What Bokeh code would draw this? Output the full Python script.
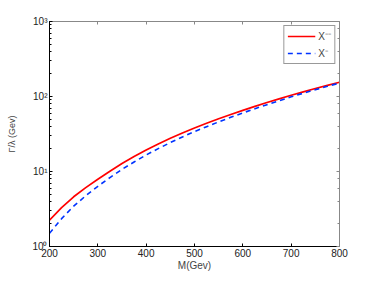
from bokeh.plotting import figure
from bokeh.models import Range1d, LinearAxis, LogAxis, FixedTicker, Legend, LegendItem
from bokeh.embed import file_html
from bokeh.resources import INLINE

# Data
mass = [200, 225, 250, 275, 300, 325, 350, 375, 400, 425, 450, 475, 500,
        525, 550, 575, 600, 625, 650, 675, 700, 725, 750, 775, 800]
gamma_xmm = [2.25, 3.3, 4.6, 6.1, 7.9, 10.1, 12.8, 15.8, 19.3, 23.3, 27.7, 32.6, 38.0,
             43.9, 50.4, 57.6, 65.3, 73.9, 83.1, 93.1, 103.8, 115.3, 127.7, 140.9, 155.0]
gamma_xm = [1.5, 2.35, 3.45, 4.75, 6.35, 8.3, 10.7, 13.4, 16.6, 20.2, 24.3, 28.9, 34.0,
            39.6, 45.9, 52.8, 60.4, 68.8, 77.8, 87.7, 99.0, 110.5, 123.2, 136.8, 151.0]
x_ticks = [200, 300, 400, 500, 600, 700, 800]
y_ticks = [1, 10, 100, 1000]
y_tick_labels = {1: "10⁰", 10: "10¹", 100: "10²", 1000: "10³"}
labels = ["X⁻⁻", "X⁻"]

FONT = "Liberation Sans"

p = figure(width=366, height=273, output_backend="svg", toolbar_location=None,
           x_range=Range1d(200, 800), y_range=Range1d(1, 1000), y_axis_type="log",
           min_border_left=49, min_border_right=27, min_border_top=21, min_border_bottom=25)
p.grid.visible = False
p.outline_line_color = None
p.background_fill_color = "white"
p.border_fill_color = "white"

r1 = p.line(mass, gamma_xmm, line_color="#ff0000", line_width=1.7)
r2 = p.line(mass, gamma_xm, line_color="#0033ff", line_width=1.6, line_dash="5 4")

def style(ax, color="black"):
    ax.axis_line_color = color
    ax.major_tick_line_color = color
    ax.minor_tick_line_color = color
    ax.major_tick_in = 3
    ax.major_tick_out = 0
    ax.minor_tick_in = 2
    ax.minor_tick_out = 0
    ax.major_label_text_font = FONT
    ax.major_label_text_color = "#222222"
    ax.major_label_text_font_size = "10px"
    ax.major_label_standoff = 2

xa = p.xaxis[0]
xa.ticker = FixedTicker(ticks=x_ticks)
style(xa)
xa.axis_label = "M(Gev)"
xa.axis_label_text_font = FONT
xa.axis_label_text_font_size = "10px"
xa.axis_label_text_font_style = "normal"
xa.axis_label_standoff = 0

ya = p.yaxis[0]
ya.ticker.desired_num_ticks = 4
ya.major_label_overrides = y_tick_labels
style(ya)
ya.axis_label = "Γ/λ (Gev)"
ya.axis_label_text_font = FONT
ya.axis_label_text_font_size = "9px"
ya.axis_label_text_font_style = "normal"
ya.axis_label_standoff = 12

top = LinearAxis(ticker=FixedTicker(ticks=x_ticks))
style(top, "#888888")
top.major_label_overrides = {t: "" for t in x_ticks}
top.major_label_standoff = 0
p.add_layout(top, "above")

right = LogAxis()
right.ticker.desired_num_ticks = 4
style(right, "#888888")
right.major_label_overrides = {t: "" for t in y_ticks}
right.major_label_standoff = 0
p.add_layout(right, "right")

legend = Legend(items=[LegendItem(label=labels[0], renderers=[r1]),
                       LegendItem(label=labels[1], renderers=[r2])],
                location="top_right")
legend.label_text_font = FONT
legend.label_text_font_size = "10px"
legend.border_line_color = "#333333"
legend.glyph_width = 28
legend.glyph_height = 10
legend.spacing = 3
legend.padding = 3
legend.margin = 4
legend.label_standoff = 3
legend.label_width = 10
p.add_layout(legend)

open("out.html", "w").write(file_html(p, INLINE))
